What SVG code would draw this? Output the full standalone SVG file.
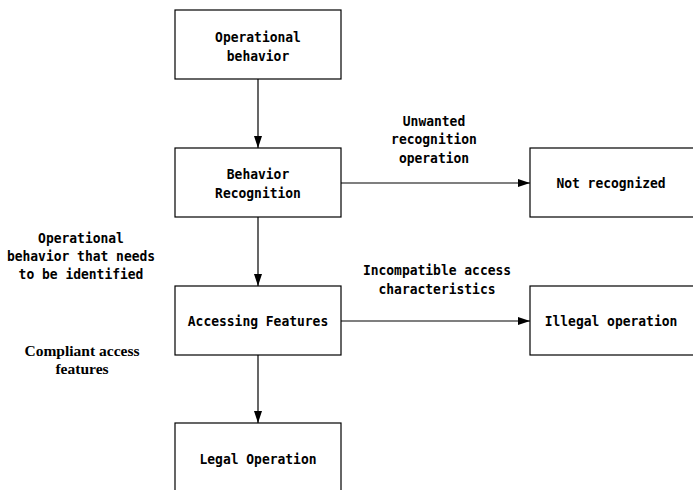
<svg xmlns="http://www.w3.org/2000/svg" width="693" height="490" viewBox="0 0 693 490">
<style>
.box{fill:#fff;stroke:#000;stroke-width:1.2}
.t{font-family:"DejaVu Sans Mono","Liberation Mono",monospace;font-size:14px;font-weight:bold;fill:#000;text-anchor:middle}
.s{font-family:"Liberation Serif","Times New Roman",serif;font-size:15.5px;font-weight:bold;fill:#000;text-anchor:middle}
.c{stroke:#000;stroke-width:1.2;fill:none;marker-end:url(#ah)}
</style>
<defs>
<marker id="ah" markerWidth="12" markerHeight="8" refX="12" refY="4" orient="auto" markerUnits="userSpaceOnUse">
<path d="M0,0 L12,4 L0,8 Z" fill="#000"/>
</marker>
</defs>
<g id="connectors">
<line class="c" x1="258" y1="79" x2="258" y2="148"/>
<line class="c" x1="258" y1="217" x2="258" y2="286"/>
<line class="c" x1="258" y1="355" x2="258" y2="423"/>
<line class="c" x1="341" y1="183" x2="530" y2="183"/>
<line class="c" x1="341" y1="321" x2="530" y2="321"/>
</g>
<g id="n1"><rect class="box" x="175" y="10" width="166" height="69"/>
<text class="t" x="258" y="42" textLength="85.8" lengthAdjust="spacingAndGlyphs">Operational</text><text class="t" x="258" y="61" textLength="62.4" lengthAdjust="spacingAndGlyphs">behavior</text></g>
<g id="n2"><rect class="box" x="175" y="148" width="166" height="69"/>
<text class="t" x="258" y="179" textLength="62.4" lengthAdjust="spacingAndGlyphs">Behavior</text><text class="t" x="258" y="198" textLength="85.8" lengthAdjust="spacingAndGlyphs">Recognition</text></g>
<g id="n3"><rect class="box" x="175" y="286" width="166" height="69"/>
<text class="t" x="258" y="326" textLength="140.4" lengthAdjust="spacingAndGlyphs">Accessing Features</text></g>
<g id="n4"><rect class="box" x="175" y="423" width="166" height="75"/>
<text class="t" x="258" y="464" textLength="117" lengthAdjust="spacingAndGlyphs">Legal Operation</text></g>
<g id="n5"><rect class="box" x="530" y="148" width="175" height="69"/>
<text class="t" x="611" y="188" textLength="109.2" lengthAdjust="spacingAndGlyphs">Not recognized</text></g>
<g id="n6"><rect class="box" x="530" y="286" width="175" height="69"/>
<text class="t" x="611" y="326" textLength="132.6" lengthAdjust="spacingAndGlyphs">Illegal operation</text></g>
<g id="labels">
<text class="t" x="434" y="126" textLength="62.4" lengthAdjust="spacingAndGlyphs">Unwanted</text>
<text class="t" x="434" y="144" textLength="85.8" lengthAdjust="spacingAndGlyphs">recognition</text>
<text class="t" x="434" y="163" textLength="70.2" lengthAdjust="spacingAndGlyphs">operation</text>
<text class="t" x="437" y="275" textLength="148.2" lengthAdjust="spacingAndGlyphs">Incompatible access</text>
<text class="t" x="437" y="294" textLength="117" lengthAdjust="spacingAndGlyphs">characteristics</text>
<text class="t" x="81" y="243" textLength="85.8" lengthAdjust="spacingAndGlyphs">Operational</text>
<text class="t" x="81" y="261" textLength="148.2" lengthAdjust="spacingAndGlyphs">behavior that needs</text>
<text class="t" x="81" y="279" textLength="124.8" lengthAdjust="spacingAndGlyphs">to be identified</text>
<text class="s" x="82" y="356">Compliant access</text>
<text class="s" x="82" y="374">features</text>
</g>
</svg>
